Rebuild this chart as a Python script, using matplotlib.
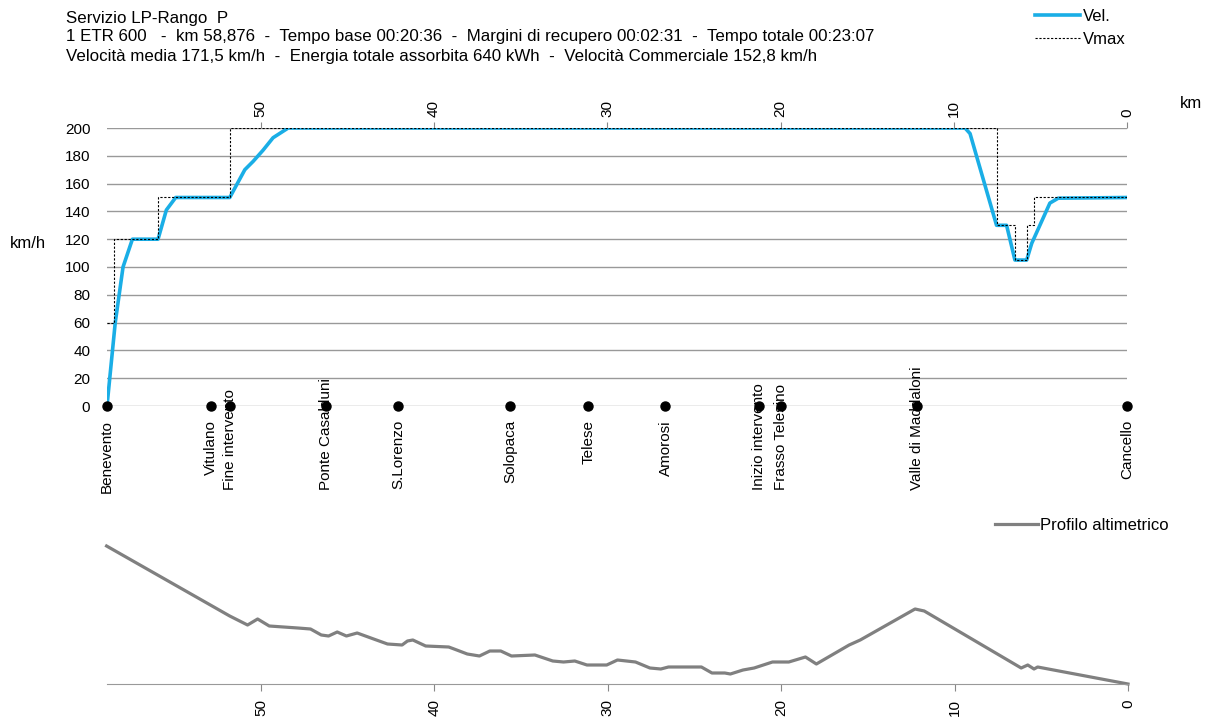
import matplotlib.pyplot as plt

plt.rcParams['font.family'] = ['Liberation Sans', 'DejaVu Sans']
plt.rcParams['font.size'] = 11

# velocity profile (km from Cancello, km/h)
vel_km = [58.876, 58.4, 57.95, 57.41, 55.93, 55.45, 54.91, 51.79, 50.92, 50.44,
          49.87, 49.29, 48.42, 9.35, 9.06, 7.53, 6.95, 6.47, 5.79, 5.5, 4.45, 3.97, 0.0]
vel = [0, 60, 100, 120, 120, 141, 150, 150, 170, 176,
       184, 193, 200, 200, 196, 130, 130, 105, 105, 117, 146, 149.5, 150]

# speed limit steps
vmax_km = [58.876, 58.49, 58.49, 55.93, 55.93, 51.79, 51.79, 7.53, 7.53, 6.47, 6.47,
           5.79, 5.79, 5.37, 5.37, 0.0]
vmax = [60, 60, 120, 120, 150, 150, 200, 200, 130, 130, 105,
        105, 130, 130, 150, 150]

stations = ['Benevento', 'Vitulano', 'Fine intervento', 'Ponte Casalduni', 'S.Lorenzo',
            'Solopaca', 'Telese', 'Amorosi', 'Inizio intervento', 'Frasso Telesino',
            'Valle di Maddaloni', 'Cancello']
station_km = [58.876, 52.9, 51.75, 46.25, 42.07, 35.62, 31.1, 26.64, 21.23, 19.97, 12.14, 0.0]

# altimetric profile (relative height)
alt_km = [58.9, 51.8, 50.77, 50.19, 49.52, 47.87, 47.14, 46.52, 46.1, 45.6, 45.07, 44.45,
          43.5, 42.7, 41.86, 41.55, 41.24, 40.5, 39.17, 38.86, 38.1, 37.4, 36.8, 36.17,
          35.55, 34.2, 33.17, 32.55, 31.9, 31.2, 30.06, 29.44, 28.4, 27.57, 26.94, 26.5,
          24.6, 23.99, 23.25, 22.93, 22.2, 21.56, 20.5, 19.56, 18.6, 17.97, 16.08, 15.44,
          12.28, 11.75, 6.16, 5.78, 5.42, 5.21, 0.0]
alt = [138, 68, 59, 65, 58, 56, 55, 49, 48, 52, 48, 51,
       45, 40, 39, 43, 44, 38, 37, 35, 30, 28, 33, 33,
       28, 29, 23, 22, 23, 19, 19, 24, 22, 16, 15, 17,
       17, 11, 11, 10, 14, 16, 22, 22, 27, 20, 39, 44,
       75, 73, 16, 19, 15, 17, 0]

W, H = 1210, 718
fig = plt.figure(figsize=(W / 100, H / 100), dpi=100)

def box(l, t, r, b):
    return [l / W, 1 - b / H, (r - l) / W, (b - t) / H]

# top chart
ax = fig.add_axes(box(107, 128, 1127, 406))
ax.plot(vmax_km, vmax, color='black', lw=0.8, ls=(0, (2, 1.5)), label='Vmax', zorder=3)
ax.plot(vel_km, vel, color='#1AAEE6', lw=2.6, label='Vel.', zorder=2)
ax.plot(station_km, [0] * len(station_km), 'o', color='black', markersize=6.5,
        clip_on=False, zorder=5)
ax.set_xlim(58.876, 0)
ax.set_ylim(0, 200)
ax.set_yticks(range(0, 201, 20))
ax.set_xticks([50, 40, 30, 20, 10, 0])
ax.xaxis.tick_top()
ax.tick_params(axis='x', direction='out', length=4, width=0.8, color='#888888',
               pad=4, labelrotation=90)
ax.tick_params(axis='y', length=0, pad=12)
ax.grid(axis='y', color='#999999', lw=1)
ax.set_axisbelow(True)
for s in ax.spines.values():
    s.set_visible(False)
fig.text(10 / W, 1 - 243 / H, 'km/h', va='center', ha='left', fontsize=12)
fig.text(1180 / W, 1 - 103 / H, 'km', va='center', ha='left', fontsize=12)

# station labels
for name, k in zip(stations, station_km):
    if len(name) > 10:
        y, va = 490, 'bottom'
    else:
        y, va = 420, 'top'
    fig.text(ax.transData.transform((k, 0))[0] / W, 1 - y / H, name,
             rotation=90, ha='center', va=va)

h, l = ax.get_legend_handles_labels()
fig.legend(h[::-1], l[::-1], loc='upper left', bbox_to_anchor=(1035 / W, 1 - 9 / H),
           frameon=False, handlelength=2.7, handletextpad=0.15, labelspacing=0.45,
           borderaxespad=0, borderpad=0, fontsize=12)

# header
hdr = dict(va='center', fontsize=12.2)
fig.text(66 / W, 1 - 18 / H, 'Servizio LP-Rango  P', **hdr)
fig.text(66 / W, 1 - 37 / H, '1 ETR 600   -  km 58,876  -  Tempo base 00:20:36  -  '
         'Margini di recupero 00:02:31  -  Tempo totale 00:23:07', **hdr)
fig.text(66 / W, 1 - 56 / H, 'Velocità media 171,5 km/h  -  Energia totale assorbita '
         '640 kWh  -  Velocità Commerciale 152,8 km/h', **hdr)

# bottom chart: altimetric profile
ax2 = fig.add_axes(box(107, 530, 1128, 684))
ax2.plot(alt_km, alt, color='#808080', lw=2.3, label='Profilo altimetrico',
         clip_on=False)
ax2.set_xlim(58.876, 0)
ax2.set_ylim(0, 154)
ax2.set_xticks([50, 40, 30, 20, 10, 0])
ax2.set_yticks([])
ax2.tick_params(axis='x', direction='out', length=5, width=0.8, color='#888888',
                pad=6, labelrotation=90)
for s in ['top', 'left', 'right']:
    ax2.spines[s].set_visible(False)
ax2.spines['bottom'].set_color('#999999')
ax2.legend(loc='upper left', bbox_to_anchor=(995 / W, 1 - 518 / H),
           bbox_transform=fig.transFigure, frameon=False, handlelength=2.6,
           handletextpad=0.1, borderaxespad=0, borderpad=0, fontsize=12)

fig.savefig('out.png', dpi=100)
